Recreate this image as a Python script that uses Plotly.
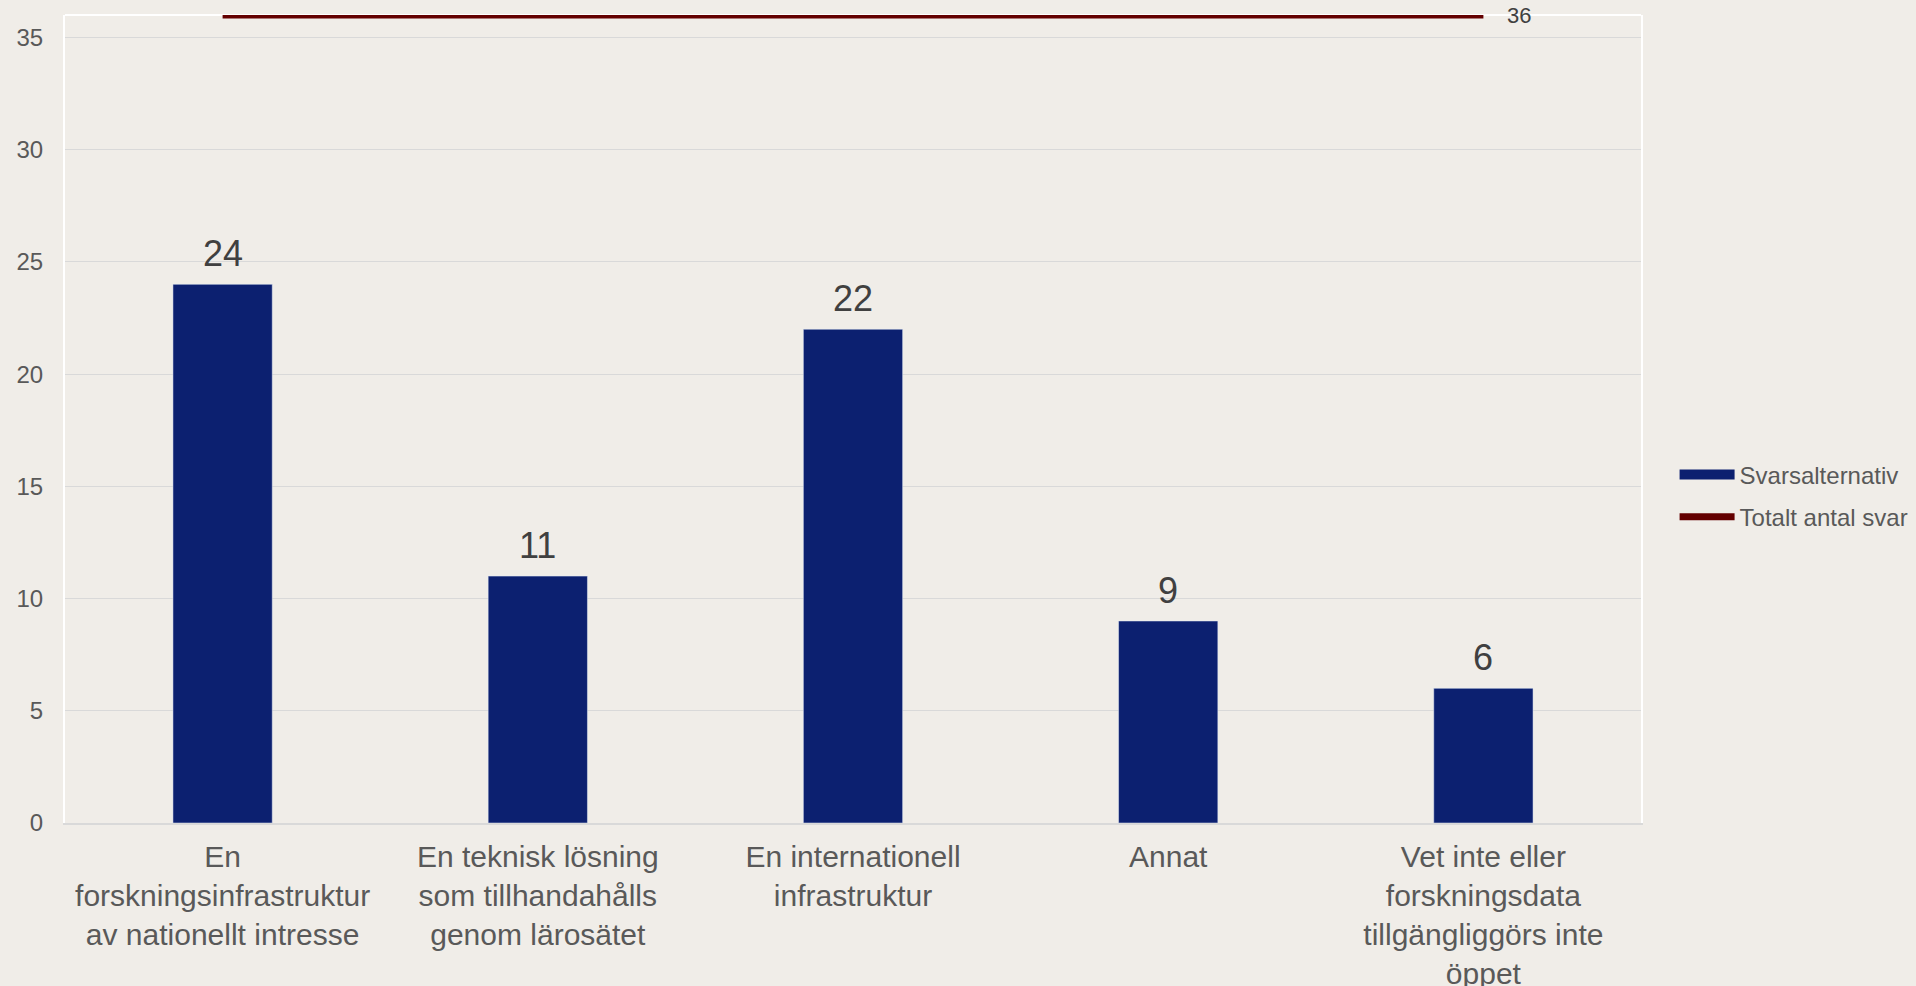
import plotly.graph_objects as go

categories = [
    "En<br>forskningsinfrastruktur<br>av nationellt intresse",
    "En teknisk lösning<br>som tillhandahålls<br>genom lärosätet",
    "En internationell<br>infrastruktur",
    "Annat",
    "Vet inte eller<br>forskningsdata<br>tillgängliggörs inte<br>öppet",
]
svar_values = [24, 11, 22, 9, 6]
total_svar = [36, 36, 36, 36, 36]
y_ticks = [0, 5, 10, 15, 20, 25, 30, 35]

bg = "#F0EDE8"
navy = "#0C2070"
darkred = "#640000"
grey_txt = "#595959"

fig = go.Figure()

fig.add_trace(go.Bar(
    x=categories, y=svar_values, name="Svarsalternativ",
    marker_color=navy, width=0.315, showlegend=False,
))
# legend entry drawn as a wide block like the original
fig.add_trace(go.Scatter(
    x=[None], y=[None], name="Svarsalternativ", mode="lines",
    line=dict(color=navy, width=12), legendgroup="a",
))

# total line sits on the top edge, half of it clipped like the original
fig.add_trace(go.Scatter(
    x=categories, y=total_svar, name="Totalt antal svar",
    mode="lines", line=dict(color=darkred, width=7),
    legendgroup="b",
))

# value labels above bars
for c, v in zip(categories, svar_values):
    fig.add_annotation(x=c, y=v, text=str(v), showarrow=False,
                       yanchor="bottom", yshift=8,
                       font=dict(size=36, color="#404040"))

# label for the total line at its right end
fig.add_annotation(
    x=categories[-1], y=total_svar[-1], text=str(total_svar[-1]),
    showarrow=False, xanchor="left", yanchor="middle", xshift=22,
    font=dict(size=22, color="#404040"),
)

# white top border of plot area
fig.add_shape(type="line", xref="paper", yref="paper", x0=0, x1=1, y0=1, y1=1,
              line=dict(color="white", width=2), layer="below")

fig.update_layout(
    width=1916, height=986,
    margin=dict(l=65, r=275, t=15, b=163),
    paper_bgcolor=bg, plot_bgcolor=bg,
    font=dict(family="Liberation Sans, Arial, sans-serif", color=grey_txt),
    legend=dict(xref="container", yref="container", x=0.874, xanchor="left",
                y=0.497, yanchor="middle",
                font=dict(size=24, color=grey_txt), bgcolor="rgba(0,0,0,0)",
                itemwidth=55, tracegroupgap=8),
)

fig.update_xaxes(
    showgrid=False, showline=True, linecolor="#D9D9D9", linewidth=2,
    tickfont=dict(size=30, color=grey_txt), ticks="", ticklabelstandoff=6,
    automargin=False,
)
fig.update_yaxes(
    range=[0, 36], tickvals=y_ticks, showgrid=True, gridcolor="#D9D9D9", gridwidth=1,
    zeroline=False, showline=True, linecolor="white", linewidth=2, mirror=True,
    tickfont=dict(size=24, color=grey_txt), ticks="", ticklabelstandoff=15,
    automargin=False,
)

fig.write_html("out.html", config={"displayModeBar": False},
               post_script="document.body.style.margin='0';document.body.style.overflow='hidden';")
